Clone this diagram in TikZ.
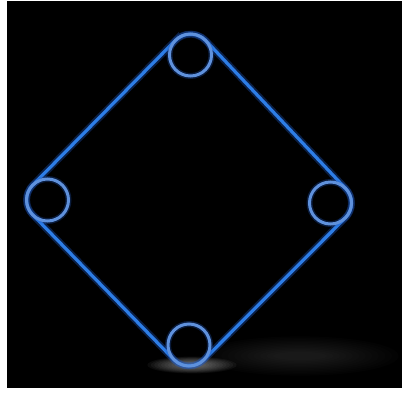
\documentclass[tikz,border=0pt]{standalone}
\usetikzlibrary{calc}
\definecolor{linec}{RGB}{45,125,230}
\definecolor{glowc}{RGB}{30,90,200}
\definecolor{ringc}{RGB}{95,145,220}
\begin{document}
\begin{tikzpicture}[x=1pt,y=-1pt,
  ring/.style={circle,minimum size=42pt,inner sep=0pt,outer sep=0pt},
  ringcore/.style={draw=ringc,line width=3pt},
  glow/.style={draw=glowc,line width=7pt,opacity=0.35},
  edge/.style={draw=linec,line width=3.2pt,line join=round}]
\useasboundingbox (0,0) rectangle (402,400);
\fill[white] (0,0) rectangle (402,400);
\fill[black] (7,1) rectangle (402,388);
% shadow
\foreach \k in {1,...,12}{
  \fill[white,fill opacity=0.012] (300,356) ellipse[x radius={105pt-6.5pt*\k},y radius={21pt-1.4pt*\k}];
}
\foreach \k in {1,...,12}{
  \fill[white,fill opacity=0.045] (192,365) ellipse[x radius={48pt-3.4pt*\k},y radius={9pt-0.6pt*\k}];
}
% ring nodes
\node[ring] (T) at (190.5,55) {};
\node[ring] (L) at (47.5,200) {};
\node[ring] (R) at (330.5,203) {};
\node[ring] (B) at (189,345) {};
% hull
\foreach \s in {glow,edge}{
\path[\s] (T.135.4) -- (L.135.4) arc[start angle=135.4,end angle=224.3,radius=21pt]
  -- (B.224.3) arc[start angle=224.3,end angle=315.1,radius=21pt]
  -- (R.315.1) arc[start angle=315.1,end angle=403.4,radius=21pt]
  -- (T.43.4) arc[start angle=43.4,end angle=135.4,radius=21pt] -- cycle;
}
% rings
\foreach \n in {T,L,R,B}{
  \draw[draw=glowc,line width=6pt,opacity=0.3] (\n.center) circle[radius=21pt];
  \draw[ringcore] (\n.center) circle[radius=21pt];
}
\end{tikzpicture}
\end{document}
